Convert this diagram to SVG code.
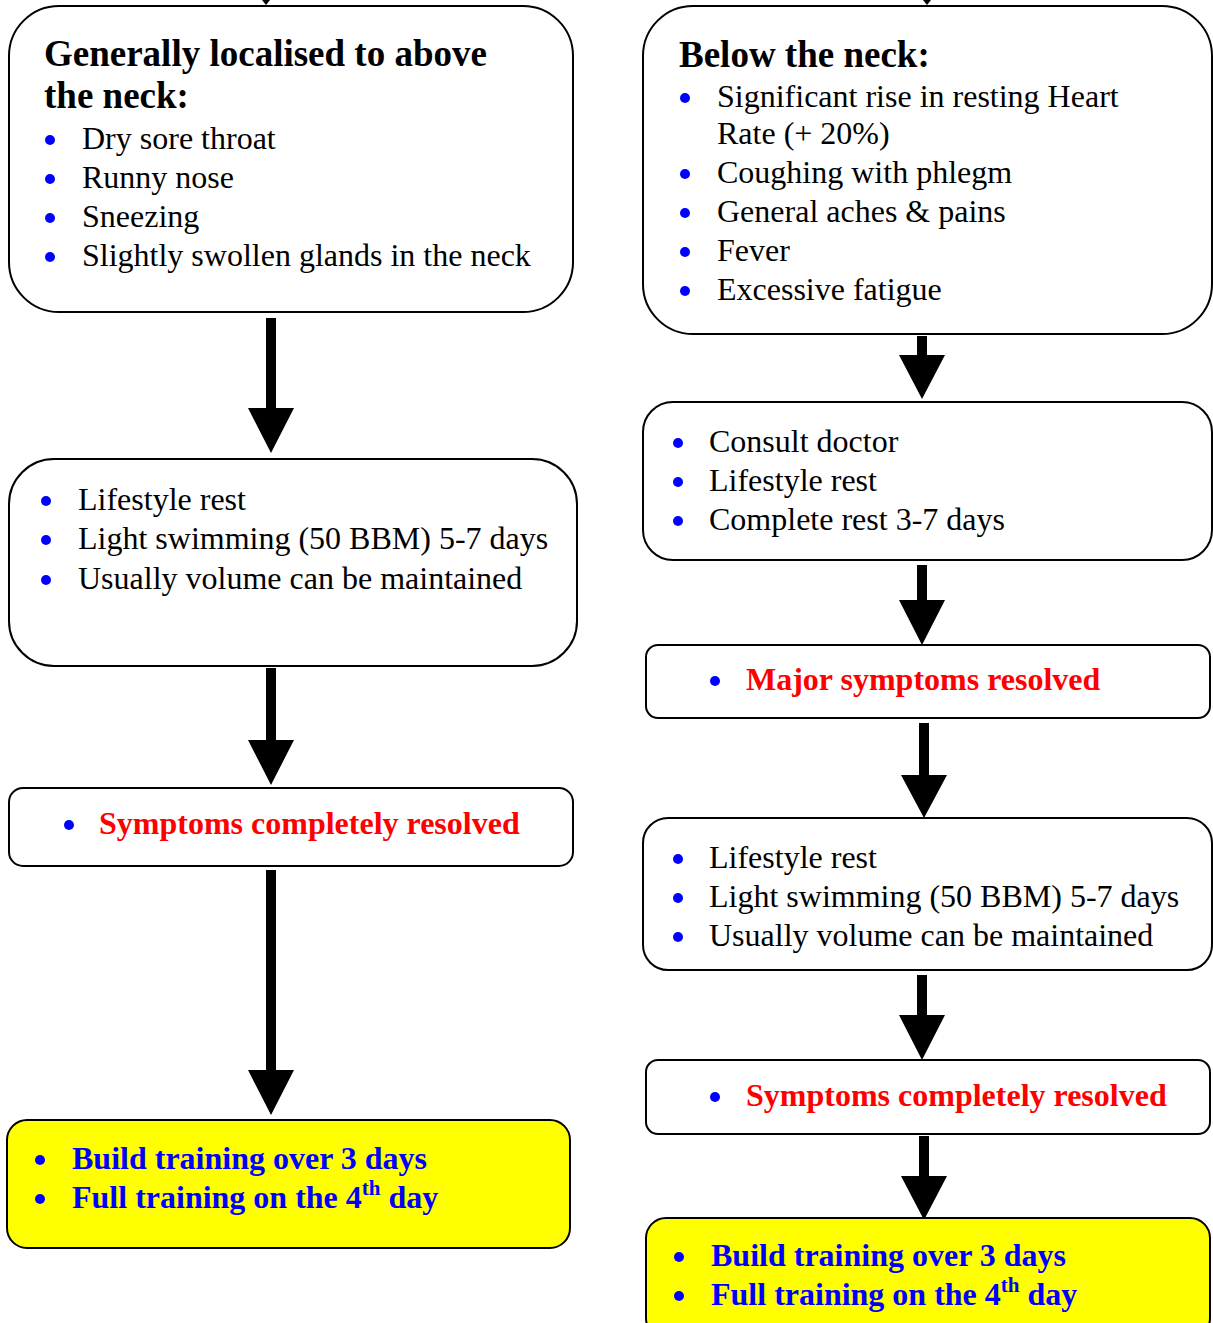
<svg xmlns="http://www.w3.org/2000/svg" width="1213" height="1323" viewBox="0 0 1213 1323">
<style>
.box{fill:#fff;stroke:#000;stroke-width:2}
.yel{fill:#ffff00;stroke:#000;stroke-width:2}
text{font-family:"Liberation Serif","Times New Roman",serif;font-size:32px;fill:#000}
.h{font-weight:bold;font-size:37px}
.r{font-weight:bold;fill:#ff0000;font-size:32px}
.b{font-weight:bold;fill:#0000ff;font-size:32px}
.dot{fill:#0000ff}
.arr{fill:#000}
</style>
<defs>
<circle id="d" r="5" class="dot"/>
</defs>
<g id="connectors">
<polygon class="arr" points="262,0 270,0 266,5"/>
<polygon class="arr" points="923,0 931,0 927,5"/>
<path class="arr" d="M266,318 H276 V408 H294 L271,453 L248,408 H266 Z"/>
<path class="arr" d="M266,668 H276 V740 H294 L271,785 L248,740 H266 Z"/>
<path class="arr" d="M266,870 H276 V1070 H294 L271,1115 L248,1070 H266 Z"/>
<path class="arr" d="M917,336 H927 V355 H945 L922,399 L899,355 H917 Z"/>
<path class="arr" d="M917,565 H927 V600 H945 L922,645 L899,600 H917 Z"/>
<path class="arr" d="M919,723 H929 V775 H947 L924,818 L901,775 H919 Z"/>
<path class="arr" d="M917,975 H927 V1015 H945 L922,1060 L899,1015 H917 Z"/>
<path class="arr" d="M919,1136 H929 V1176 H947 L924,1220 L901,1176 H919 Z"/>
</g>
<g id="n1">
<rect class="box" x="9" y="6" width="564" height="306" rx="50"/>
<text class="h" x="44" y="66">Generally localised to above</text>
<text class="h" x="44" y="108">the neck:</text>
<use href="#d" x="50" y="140"/><text x="82" y="149">Dry sore throat</text>
<use href="#d" x="50" y="179"/><text x="82" y="188">Runny nose</text>
<use href="#d" x="50" y="218"/><text x="82" y="227">Sneezing</text>
<use href="#d" x="50" y="257"/><text x="82" y="266">Slightly swollen glands in the neck</text>
</g>
<g id="n2">
<rect class="box" x="9" y="459" width="568" height="207" rx="45"/>
<use href="#d" x="46" y="501"/><text x="78" y="510">Lifestyle rest</text>
<use href="#d" x="46" y="540"/><text x="78" y="549">Light swimming (50 BBM) 5-7 days</text>
<use href="#d" x="46" y="580"/><text x="78" y="589">Usually volume can be maintained</text>
</g>
<g id="n3">
<rect class="box" x="9" y="788" width="564" height="78" rx="14"/>
<use href="#d" x="69" y="825"/><text class="r" x="99" y="834">Symptoms completely resolved</text>
</g>
<g id="n4">
<rect class="yel" x="7" y="1120" width="563" height="128" rx="20"/>
<use href="#d" x="40" y="1160"/><text class="b" x="72" y="1169">Build training over 3 days</text>
<use href="#d" x="40" y="1199"/><text class="b" x="72" y="1208">Full training on the 4<tspan font-size="21" dy="-13">th</tspan><tspan dy="13"> day</tspan></text>
</g>
<g id="n5">
<rect class="box" x="643" y="6" width="569" height="328" rx="50"/>
<text class="h" x="679" y="67">Below the neck:</text>
<use href="#d" x="685" y="98"/><text x="717" y="107">Significant rise in resting Heart</text>
<text x="717" y="144">Rate (+ 20%)</text>
<use href="#d" x="685" y="174"/><text x="717" y="183">Coughing with phlegm</text>
<use href="#d" x="685" y="213"/><text x="717" y="222">General aches &amp; pains</text>
<use href="#d" x="685" y="252"/><text x="717" y="261">Fever</text>
<use href="#d" x="685" y="291"/><text x="717" y="300">Excessive fatigue</text>
</g>
<g id="n6">
<rect class="box" x="643" y="402" width="569" height="158" rx="30"/>
<use href="#d" x="678" y="443"/><text x="709" y="452">Consult doctor</text>
<use href="#d" x="678" y="482"/><text x="709" y="491">Lifestyle rest</text>
<use href="#d" x="678" y="521"/><text x="709" y="530">Complete rest 3-7 days</text>
</g>
<g id="n7">
<rect class="box" x="646" y="645" width="564" height="73" rx="12"/>
<use href="#d" x="715" y="681"/><text class="r" x="746" y="690">Major symptoms resolved</text>
</g>
<g id="n8">
<rect class="box" x="643" y="818" width="569" height="152" rx="25"/>
<use href="#d" x="678" y="859"/><text x="709" y="868">Lifestyle rest</text>
<use href="#d" x="678" y="898"/><text x="709" y="907">Light swimming (50 BBM) 5-7 days</text>
<use href="#d" x="678" y="937"/><text x="709" y="946">Usually volume can be maintained</text>
</g>
<g id="n9">
<rect class="box" x="646" y="1060" width="564" height="74" rx="12"/>
<use href="#d" x="715" y="1097"/><text class="r" x="746" y="1106">Symptoms completely resolved</text>
</g>
<g id="n10">
<rect class="yel" x="646" y="1218" width="564" height="120" rx="20"/>
<use href="#d" x="679" y="1257"/><text class="b" x="711" y="1266">Build training over 3 days</text>
<use href="#d" x="679" y="1296"/><text class="b" x="711" y="1305">Full training on the 4<tspan font-size="21" dy="-13">th</tspan><tspan dy="13"> day</tspan></text>
</g>
</svg>
